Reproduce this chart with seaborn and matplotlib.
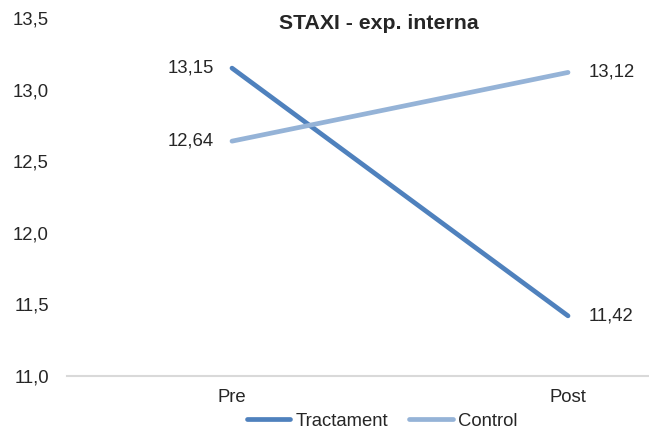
import matplotlib
matplotlib.use("Agg")
import matplotlib.pyplot as plt
import seaborn as sns
import pandas as pd

moments = ["Pre", "Post"]
tractament = [13.15, 11.42]
control = [12.64, 13.12]
groups = ["Tractament", "Control"]
colors = ["#4F81BD", "#95B3D7"]
yticks = [11.0, 11.5, 12.0, 12.5, 13.0, 13.5]

df = pd.DataFrame({
    "moment": list(range(len(moments))) * 2,
    "valor": tractament + control,
    "grup": [groups[0]] * len(moments) + [groups[1]] * len(moments),
})

sns.set_style("white")
plt.rcParams["font.family"] = ["Liberation Sans", "DejaVu Sans"]

FS = 13.3

fig = plt.figure(figsize=(6.49, 4.28), dpi=100)
ax = fig.add_axes([67 / 649, 1 - 376 / 428, 1 - 67 / 649, (376 - 18) / 428])

sns.lineplot(data=df, x="moment", y="valor", hue="grup", hue_order=groups,
             palette=colors, linewidth=3.4, ax=ax, legend=True,
             solid_capstyle="round")

ax.set_xlim(-0.491, 1.241)
ax.set_ylim(11.0, 13.5)
ax.set_yticks(yticks)
ax.set_yticklabels([f"{v:.1f}".replace(".", ",") for v in yticks], fontsize=FS)
ax.set_xticks(range(len(moments)))
ax.set_xticklabels(moments, fontsize=FS)
ax.tick_params(axis="both", length=0)
ax.tick_params(axis="y", pad=13)
ax.tick_params(axis="x", pad=9)
ax.set_xlabel("")
ax.set_ylabel("")

for s in ["left", "right", "top"]:
    ax.spines[s].set_visible(False)
ax.spines["bottom"].set_color("#D9D9D9")
ax.spines["bottom"].set_linewidth(1.5)

# value labels beside each point
for vals in (tractament, control):
    ax.text(0 - 0.054, vals[0], f"{vals[0]:.2f}".replace(".", ","),
            ha="right", va="center", fontsize=FS)
    ax.text(1 + 0.06, vals[1], f"{vals[1]:.2f}".replace(".", ","),
            ha="left", va="center", fontsize=FS)

ax.text(0.4375, 13.465, "STAXI - exp. interna", fontsize=15.3,
        fontweight="bold", ha="center", va="center")

leg = ax.legend(loc="center", bbox_to_anchor=(382 / 649, 1 - 421 / 428),
                bbox_transform=fig.transFigure, ncol=2, frameon=False,
                fontsize=FS, handlelength=2.35, handletextpad=0.27,
                columnspacing=1.17, borderpad=0)

fig.savefig("out.png", dpi=100)
